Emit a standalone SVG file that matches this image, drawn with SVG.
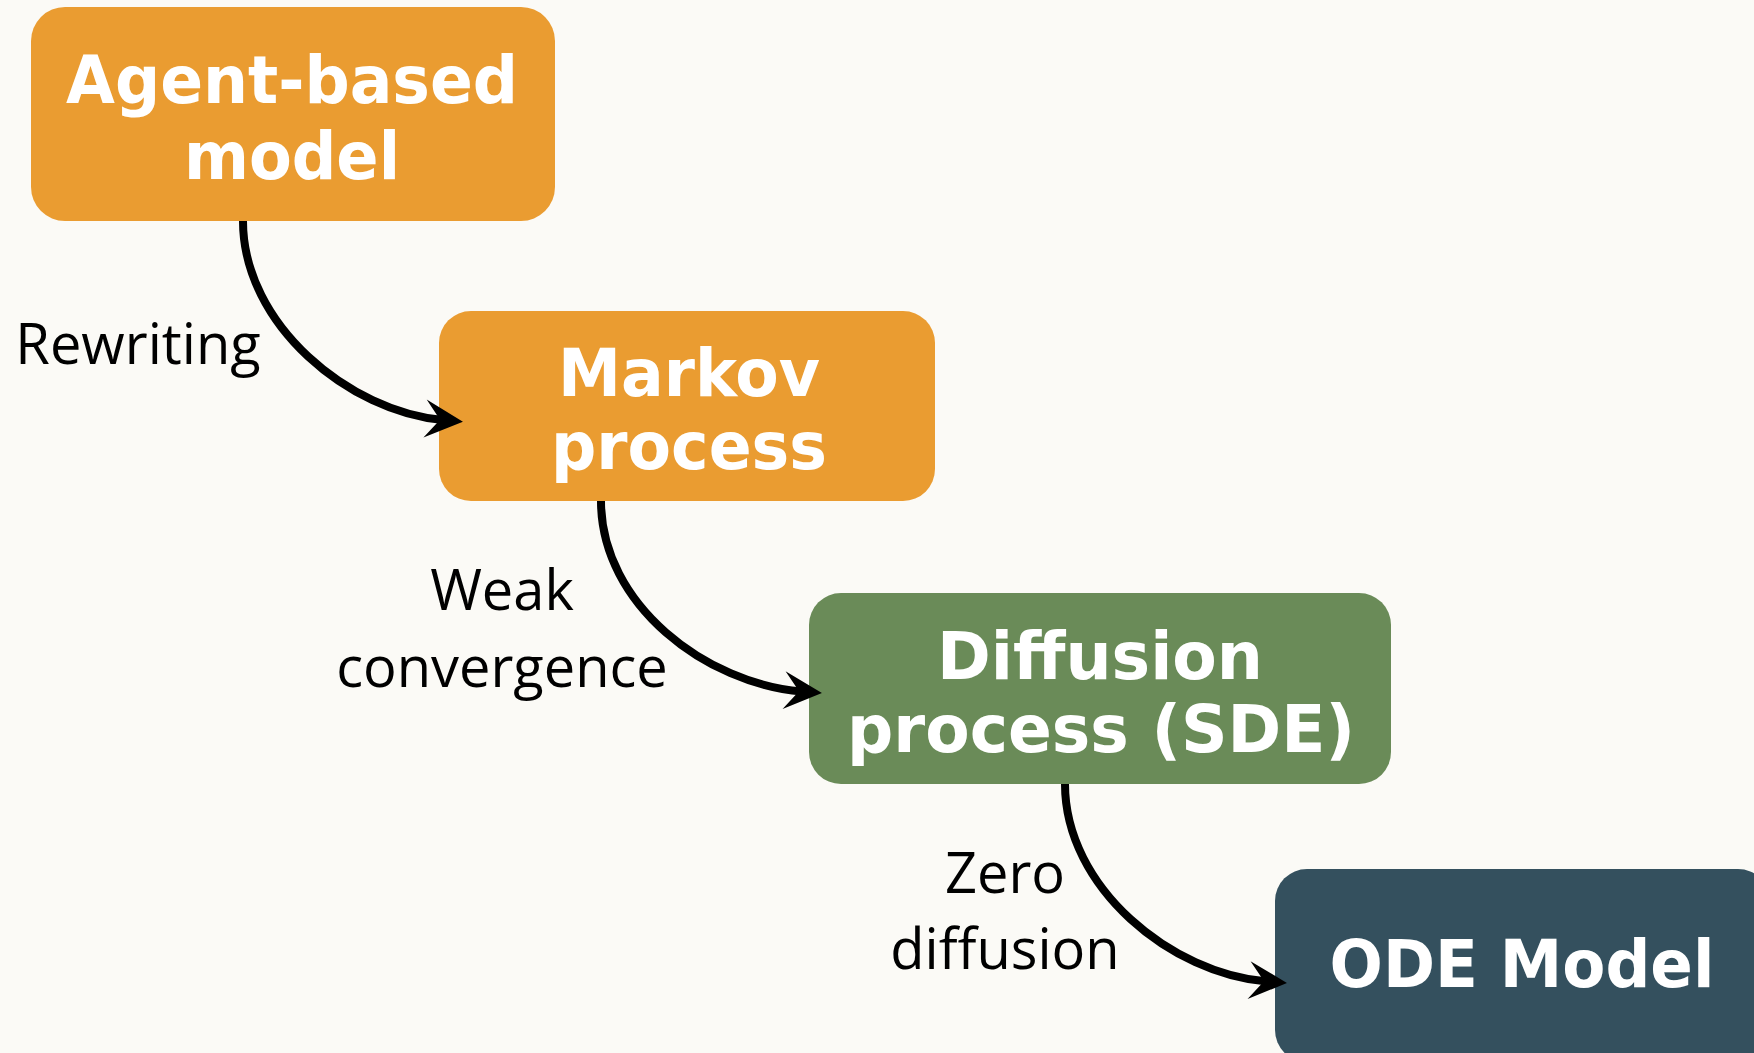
<svg xmlns="http://www.w3.org/2000/svg" width="1754" height="1053" viewBox="0 0 1754 1053">
<style>
.box-text{font-family:"DejaVu Sans","Verdana",sans-serif;font-weight:bold;font-size:65px;fill:#ffffff;text-anchor:middle}
.lbl{font-family:"Open Sans","Noto Sans",sans-serif;font-size:56px;fill:#000000;text-anchor:middle}
.conn{fill:none;stroke:#000000;stroke-width:8}
.orange{fill:#EA9C31}
.green{fill:#6A8B58}
.dark{fill:#34505E}
</style>
<defs>
<marker id="arrow" markerUnits="userSpaceOnUse" markerWidth="40" markerHeight="40" viewBox="0 -20 40 40" refX="18" refY="0" orient="auto" overflow="visible">
<path d="M0,-19 L38,0 L0,19 L15,0 Z" fill="#000000"/>
</marker>
</defs>
<rect x="0" y="0" width="1754" height="1053" fill="#FBFAF6"/>
<g id="node-agent">
<rect class="orange" x="31" y="7" width="524" height="214" rx="34" ry="34"/>
<text class="box-text" x="292" y="103" textLength="452" lengthAdjust="spacingAndGlyphs">Agent-based</text>
<text class="box-text" x="292" y="179" textLength="216" lengthAdjust="spacingAndGlyphs">model</text>
</g>
<g id="node-markov">
<rect class="orange" x="439" y="311" width="496" height="190" rx="32" ry="32"/>
<text class="box-text" x="689" y="395.5" textLength="262" lengthAdjust="spacingAndGlyphs">Markov</text>
<text class="box-text" x="689" y="468.5" textLength="276" lengthAdjust="spacingAndGlyphs">process</text>
</g>
<g id="node-diffusion">
<rect class="green" x="809" y="593" width="582" height="191" rx="32" ry="32"/>
<text class="box-text" x="1100" y="678.5" textLength="326" lengthAdjust="spacingAndGlyphs">Diffusion</text>
<text class="box-text" x="1101" y="752" textLength="508" lengthAdjust="spacingAndGlyphs">process (SDE)</text>
</g>
<g id="node-ode">
<rect class="dark" x="1275" y="869" width="495" height="193" rx="32" ry="32"/>
<text class="box-text" x="1522" y="987" textLength="385" lengthAdjust="spacingAndGlyphs">ODE Model</text>
</g>
<g id="connectors">
<path class="conn" d="M243,221 C243,325 350,412 443,420" marker-end="url(#arrow)"/>
<path class="conn" d="M601,501 C601,605 707,684 802,691.5" marker-end="url(#arrow)"/>
<path class="conn" d="M1065,784 C1065,888 1172,974 1267,981.5" marker-end="url(#arrow)"/>
</g>
<g id="labels">
<text class="lbl" x="138" y="364">Rewriting</text>
<text class="lbl" x="502" y="610">Weak</text>
<text class="lbl" x="502" y="686.5">convergence</text>
<text class="lbl" x="1005" y="893">Zero</text>
<text class="lbl" x="1005" y="969">diffusion</text>
</g>
</svg>
